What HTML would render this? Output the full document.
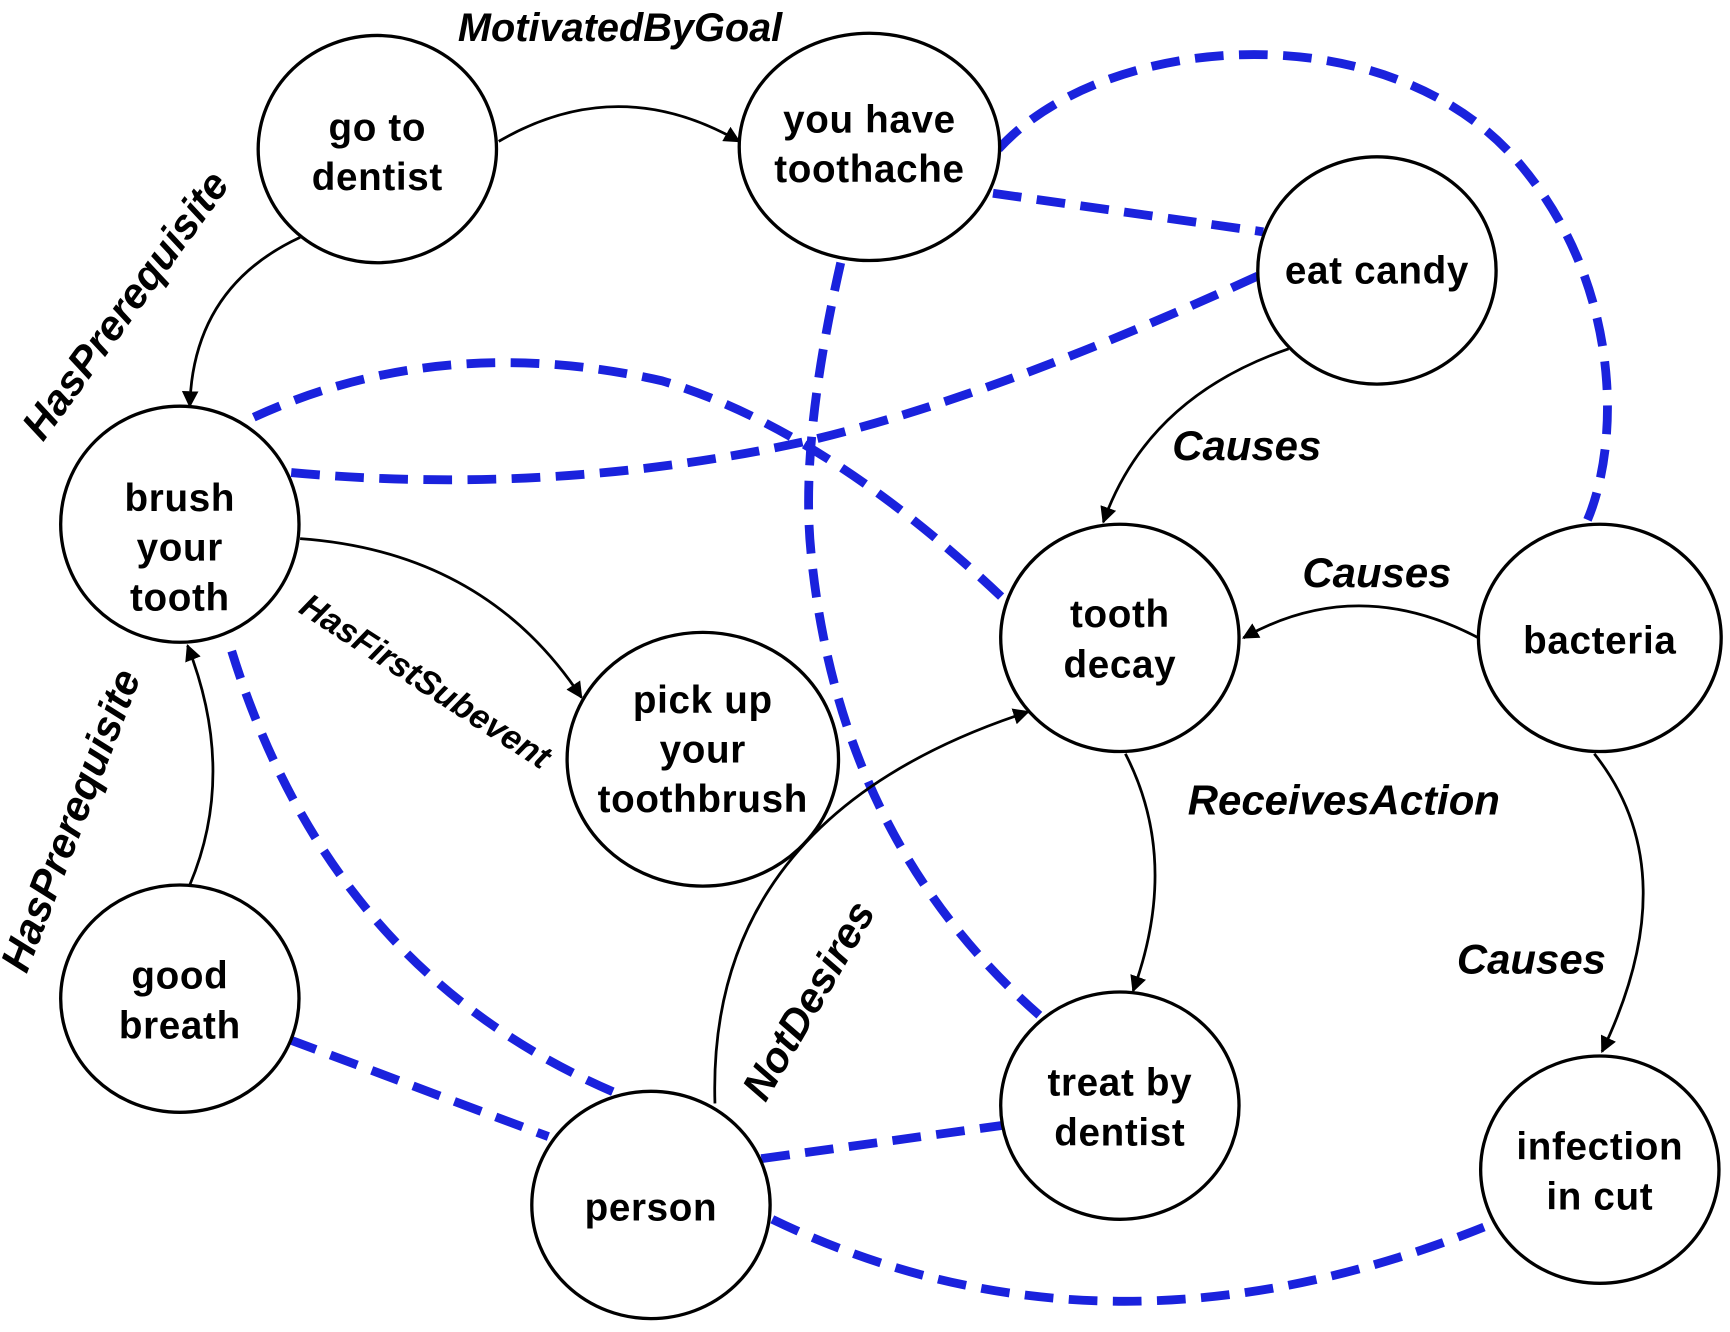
<!DOCTYPE html>
<html><head><meta charset="utf-8"><style>html,body{margin:0;padding:0;background:#fff}svg{display:block}</style></head>
<body>
<svg width="1730" height="1332" viewBox="0 0 1568 1207" xmlns="http://www.w3.org/2000/svg" font-family="Liberation Sans, sans-serif">
<defs><marker id="a" viewBox="0 0 10 10" refX="9" refY="5" markerWidth="6" markerHeight="6" orient="auto"><path d="M0,0L10,5L0,10z" fill="#000"/></marker></defs>
<g fill="none" stroke="#1a22dd" stroke-width="8" stroke-dasharray="26,14">
<path d="M905,135 C1000,30 1250,10 1370,140 C1470,250 1470,400 1438,473"/>
<path d="M900,175 L1145,210"/>
<path d="M1140,250 Q900,360 730,400 Q500,450 262,428"/>
<path d="M230,378 Q400,300 600,345 Q750,390 912,545"/>
<path d="M762,238 Q725,400 735,500 Q760,760 942,920"/>
<path d="M210,590 Q300,880 557,990"/>
<path d="M262,942 L497,1030"/>
<path d="M690,1050 L908,1020"/>
<path d="M700,1105 Q1000,1250 1345,1112"/>
</g>
<g fill="none" stroke="#000" stroke-width="2.5" marker-end="url(#a)">
<path d="M452,128 Q560,65 670,128"/>
<path d="M272,215 Q175,260 172,368"/>
<path d="M272,488 Q440,500 527,632"/>
<path d="M172,802 Q215,700 170,585"/>
<path d="M1168,316 Q1040,360 1000,473"/>
<path d="M1340,578 Q1230,520 1127,578"/>
<path d="M1020,683 Q1070,780 1027,898"/>
<path d="M1445,683 Q1530,790 1452,953"/>
<path d="M648,1000 Q640,740 932,645"/>
</g>
<g fill="#fff" stroke="#000" stroke-width="3">
<ellipse cx="342" cy="135" rx="108" ry="103"/>
<ellipse cx="788" cy="133" rx="118" ry="103"/>
<ellipse cx="1248" cy="245" rx="108" ry="103"/>
<ellipse cx="163" cy="475" rx="108" ry="107"/>
<ellipse cx="1015" cy="578" rx="108" ry="103"/>
<ellipse cx="1450" cy="578" rx="110" ry="103"/>
<ellipse cx="637" cy="688" rx="123" ry="115"/>
<ellipse cx="163" cy="905" rx="108" ry="103"/>
<ellipse cx="1015" cy="1002" rx="108" ry="103"/>
<ellipse cx="590" cy="1092" rx="108" ry="103"/>
<ellipse cx="1450" cy="1060" rx="108" ry="103"/>
</g>
<g font-weight="bold" font-size="35" letter-spacing="0.6" text-anchor="middle" fill="#000">
<text x="342" y="127">go to</text><text x="342" y="172">dentist</text>
<text x="788" y="120">you have</text><text x="788" y="165">toothache</text>
<text x="1248" y="257">eat candy</text>
<text x="163" y="463">brush</text><text x="163" y="508">your</text><text x="163" y="553">tooth</text>
<text x="1015" y="568">tooth</text><text x="1015" y="614">decay</text>
<text x="1450" y="592">bacteria</text>
<text x="637" y="646">pick up</text><text x="637" y="691">your</text><text x="637" y="736">toothbrush</text>
<text x="163" y="896">good</text><text x="163" y="941">breath</text>
<text x="1015" y="993">treat by</text><text x="1015" y="1038">dentist</text>
<text x="590" y="1106">person</text>
<text x="1450" y="1051">infection</text><text x="1450" y="1096">in cut</text>
</g>
<g font-weight="bold" font-style="italic" font-size="38" text-anchor="middle" fill="#000">
<text x="562" y="37" font-size="36">MotivatedByGoal</text>
<text x="1130" y="417">Causes</text>
<text x="1248" y="532">Causes</text>
<text x="1218" y="738">ReceivesAction</text>
<text x="1388" y="882">Causes</text>
<text transform="translate(124,284) rotate(-54)">HasPrerequisite</text>
<text transform="translate(76,748) rotate(-69)">HasPrerequisite</text>
<text transform="translate(744,913) rotate(-60)">NotDesires</text>
<text font-size="31" transform="translate(380,626) rotate(33)">HasFirstSubevent</text>
</g>
</svg>
</body></html>
